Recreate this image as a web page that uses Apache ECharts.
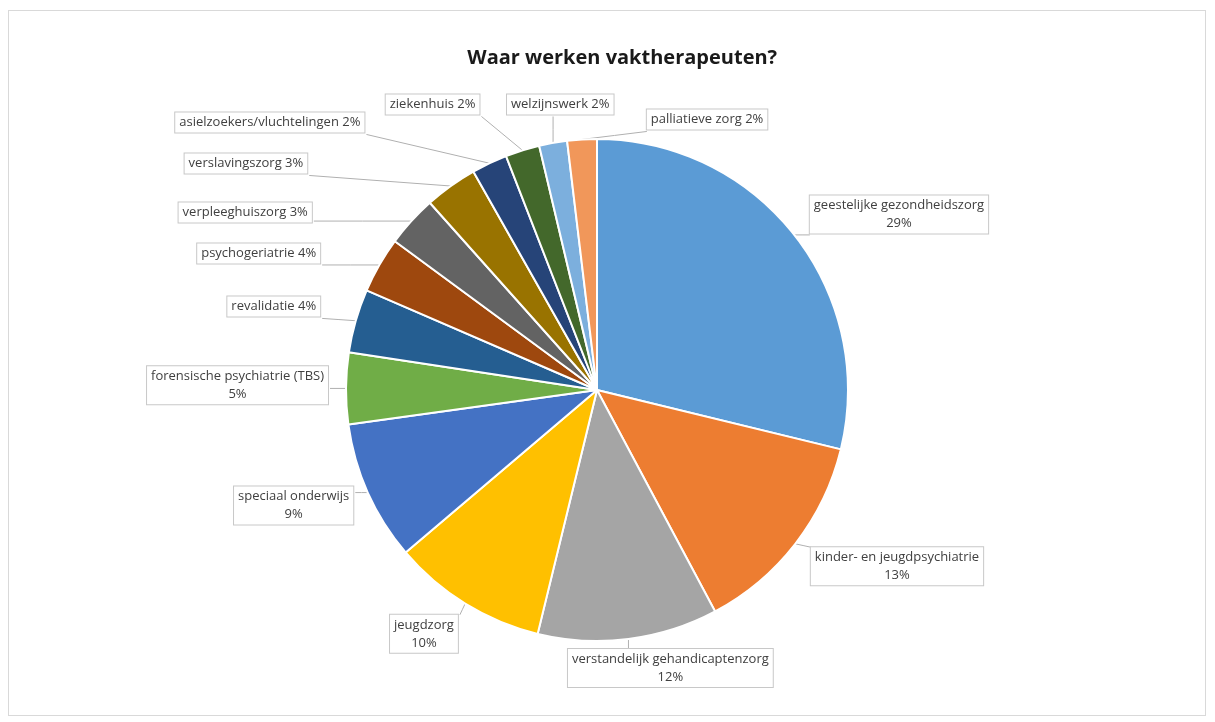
<!DOCTYPE html>
<html>
<head>
<meta charset="utf-8">
<script src="https://cdn.jsdelivr.net/npm/echarts@6/dist/echarts.min.js"></script>
<style>
  html, body { margin: 0; padding: 0; background: #ffffff; }
  #frame { position: absolute; left: 8px; top: 10px; width: 1198px; height: 706px; border: 1px solid #d9d9d9; box-sizing: border-box; }
  #chart { position: absolute; left: 0; top: 0; width: 1215px; height: 722px; }
</style>
</head>
<body>
<div id="frame"></div>
<div id="chart"></div>
<script>
const titleText = 'Waar werken vaktherapeuten?';
const categories = [
  'geestelijke gezondheidszorg',
  'kinder- en jeugdpsychiatrie',
  'verstandelijk gehandicaptenzorg',
  'jeugdzorg',
  'speciaal onderwijs',
  'forensische psychiatrie (TBS)',
  'revalidatie',
  'psychogeriatrie',
  'verpleeghuiszorg',
  'verslavingszorg',
  'asielzoekers/vluchtelingen',
  'ziekenhuis',
  'welzijnswerk',
  'palliatieve zorg'
];
const values = [28.8, 13.4, 11.6, 10, 9, 4.6, 4.1, 3.6, 3.3, 3.4, 2.3, 2.2, 1.8, 1.9];
const colors = ['#5B9BD5', '#ED7D31', '#A5A5A5', '#FFC000', '#4472C4', '#70AD47', '#255E91',
  '#9E480E', '#636363', '#997300', '#264478', '#43682B', '#7CAFDD', '#F1975A'];
// label nudges (px) relative to ECharts' default outside placement, to mimic Excel best-fit
const labelNudges = [
  [-18, -12], [-18, 16], [-86, 18], [25, 21], [18, 9], [15, -2], [-3, -10],
  [-21, -17], [-43, -34], [-65, -59], [-30, -76], [56, -70], [149, -46], [212, -7]
];

const chart = echarts.init(document.getElementById('chart'), null, { renderer: 'canvas' });
chart.setOption({
  animation: false,
  title: {
    text: titleText,
    left: '50.8%',
    top: 43,
    textAlign: 'center',
    textStyle: { fontFamily: 'Open Sans', fontWeight: 'bold', fontSize: 20, color: '#1a1a1a' }
  },
  series: [{
    type: 'pie',
    center: [597, 390],
    radius: 251,
    startAngle: 90,
    clockwise: true,
    color: colors,
    data: categories.map((c, i) => ({ name: c, value: values[i] })),
    itemStyle: { borderColor: '#ffffff', borderWidth: 2 },
    label: {
      show: true,
      position: 'outside',
      fontFamily: 'Open Sans',
      fontSize: 13,
      color: '#404040',
      backgroundColor: '#ffffff',
      borderColor: '#c8c8c8',
      borderWidth: 1,
      padding: [1, 4],
      lineHeight: 18,
      formatter: function (p) {
        const pct = Math.round(p.percent) + '%';
        return p.percent >= 4.5 ? '{c|' + p.name + '}\n{c|' + pct + '}' : '{c|' + p.name + ' ' + pct + '}';
      },
      rich: {
        c: { align: 'center', fontFamily: 'Open Sans', fontSize: 13, color: '#404040', lineHeight: 18 }
      }
    },
    labelLine: { show: true, length: 12, length2: 20, lineStyle: { color: '#b0b0b0', width: 1 } },
    labelLayout: function (params) {
      const n = labelNudges[params.dataIndex];
      const r = params.labelRect;
      const x = r.x + n[0], y = r.y + n[1];
      const out = { x: x, y: y, align: 'left', verticalAlign: 'top' };
      const pts = params.labelLinePoints;
      if (pts && pts.length) {
        const p0 = pts[0];
        const qx = Math.min(Math.max(p0[0], x), x + r.width);
        const qy = Math.min(Math.max(p0[1], y), y + r.height);
        out.labelLinePoints = [[p0[0], p0[1]], [(p0[0] + qx) / 2, (p0[1] + qy) / 2], [qx, qy]];
      }
      return out;
    },
    minShowLabelAngle: 0
  }]
});
</script>
</body>
</html>
